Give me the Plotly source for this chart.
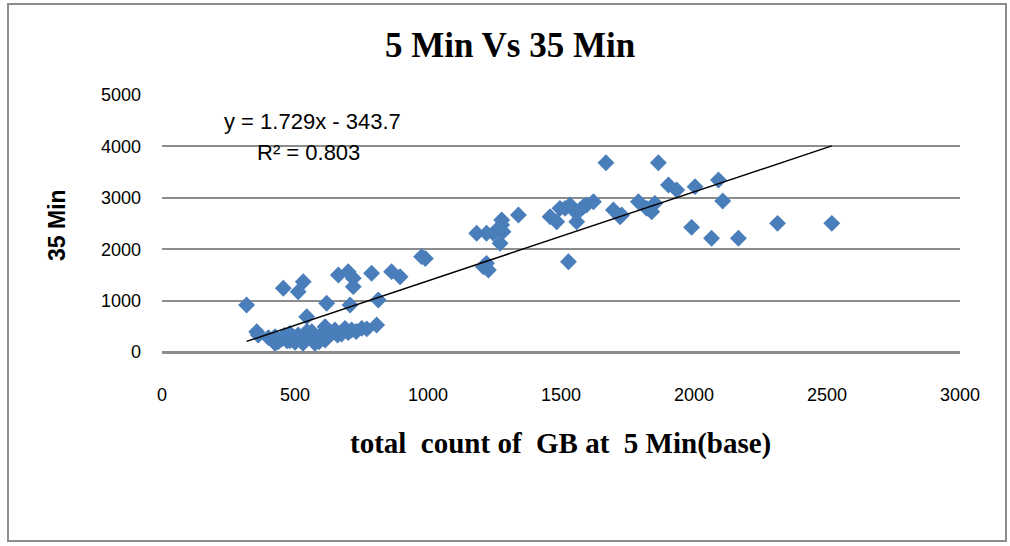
import plotly.graph_objects as go

# 5-minute base counts (x) and 35-minute counts (y)
x_vals = [
    356, 362, 400, 425, 425, 437, 450, 460, 470, 481, 490, 500, 512, 520, 538, 545, 555, 563,
    570, 575, 590, 600, 613, 613, 625, 640, 650, 660, 675, 688, 700, 713, 730, 751, 770, 807,
    544, 480, 530, 590,
    318, 456, 512, 531, 619, 663, 700, 707, 719, 719, 788, 813, 863, 895, 976, 990,
    1183, 1208, 1220, 1227, 1220, 1246, 1271, 1277, 1282, 1277, 1340, 1459, 1484, 1496, 1515,
    1534, 1547, 1559, 1571, 1584, 1596, 1622, 1528, 1669, 1697, 1722, 1728, 1791, 1822, 1841,
    1853, 1866, 1904, 1935, 2004, 2092, 2108, 1991, 2066, 2167, 2314, 2518,
]
y_vals = [
    395, 330, 280, 298, 169, 200, 250, 320, 220, 363, 280, 190, 331, 240, 266, 400, 300, 395,
    220, 169, 280, 350, 233, 493, 300, 380, 428, 330, 350, 460, 380, 428, 400, 460, 450, 525,
    687, 220, 170, 200,
    914, 1239, 1173, 1368, 947, 1498, 1563, 914, 1434, 1271, 1531, 1012, 1563, 1465, 1855, 1820,
    2309, 1660, 1725, 1595, 2309, 2309, 2114, 2471, 2341, 2568, 2665, 2632, 2535, 2795, 2795,
    2860, 2763, 2535, 2763, 2827, 2860, 2924, 1757, 3683, 2763, 2632, 2665, 2924, 2795, 2730,
    2892, 3683, 3249, 3152, 3217, 3346, 2938, 2425, 2212, 2212, 2503, 2503,
]

slope = 1.729
intercept = -343.7
trend_x = [min(x_vals), max(x_vals)]
trend_y = [slope * v + intercept for v in trend_x]

x_ticks = [0, 500, 1000, 1500, 2000, 2500, 3000]
y_ticks = [0, 1000, 2000, 3000, 4000, 5000]

fig = go.Figure()
fig.add_trace(go.Scatter(
    x=x_vals, y=y_vals, mode="markers",
    marker=dict(symbol="diamond", size=13, color="#4A7EBB", line=dict(width=0)),
    showlegend=False, hoverinfo="skip",
))
fig.add_trace(go.Scatter(
    x=trend_x, y=trend_y, mode="lines",
    line=dict(color="black", width=1.5),
    showlegend=False, hoverinfo="skip",
))

L, R, T, B = 162, 50, 95, 194
W, H = 1010, 546
pw, ph = W - L - R, H - T - B

def px(xp):
    return (xp - L) / pw

def py(yp):
    return (H - B - yp) / ph

fig.update_layout(
    width=W, height=H,
    margin=dict(l=L, r=R, t=T, b=B),
    paper_bgcolor="white", plot_bgcolor="white",
    title=dict(text="<b>5 Min Vs 35 Min</b>", x=px(510), xanchor="center", xref="paper",
               y=1 - 45 / H, yanchor="middle",
               font=dict(family="Liberation Serif", size=35, color="black")),
    xaxis=dict(range=[0, 3000], tickvals=x_ticks, showgrid=False, zeroline=False,
               showline=False, ticks="", ticklabelstandoff=30,
               tickfont=dict(family="Liberation Sans", size=18, color="black")),
    yaxis=dict(range=[0, 5000], tickvals=y_ticks, showgrid=True, gridcolor="#8C8C8C", gridwidth=1.5,
               zeroline=True, zerolinecolor="#8C8C8C", zerolinewidth=2.5,
               showline=False, ticks="", ticklabelstandoff=20,
               tickfont=dict(family="Liberation Sans", size=18, color="black")),
    font=dict(family="Liberation Sans"),
)

fig.add_annotation(text="<b>total  count of  GB at  5 Min(base)</b>", xref="paper", yref="paper",
                   x=px(560), y=py(443), xanchor="center", yanchor="middle", showarrow=False,
                   font=dict(family="Liberation Serif", size=29, color="black"))
fig.add_annotation(text="<b>35 Min</b>", xref="paper", yref="paper", textangle=-90,
                   x=px(57), y=py(225), xanchor="center", yanchor="middle", showarrow=False,
                   font=dict(family="Liberation Sans", size=23, color="black"))
fig.add_annotation(text="y = 1.729x - 343.7", xref="paper", yref="paper",
                   x=px(312), y=py(122), xanchor="center", yanchor="middle", showarrow=False,
                   font=dict(family="Liberation Sans", size=22, color="black"))
fig.add_annotation(text="R² = 0.803", xref="paper", yref="paper",
                   x=px(308), y=py(152), xanchor="center", yanchor="middle", showarrow=False,
                   font=dict(family="Liberation Sans", size=22, color="black"))

fig.add_shape(type="rect", xref="paper", yref="paper",
              x0=px(8), x1=px(1006), y0=py(541), y1=py(4),
              line=dict(color="#8C8C8C", width=2), layer="below")

fig.write_html("out.html")
